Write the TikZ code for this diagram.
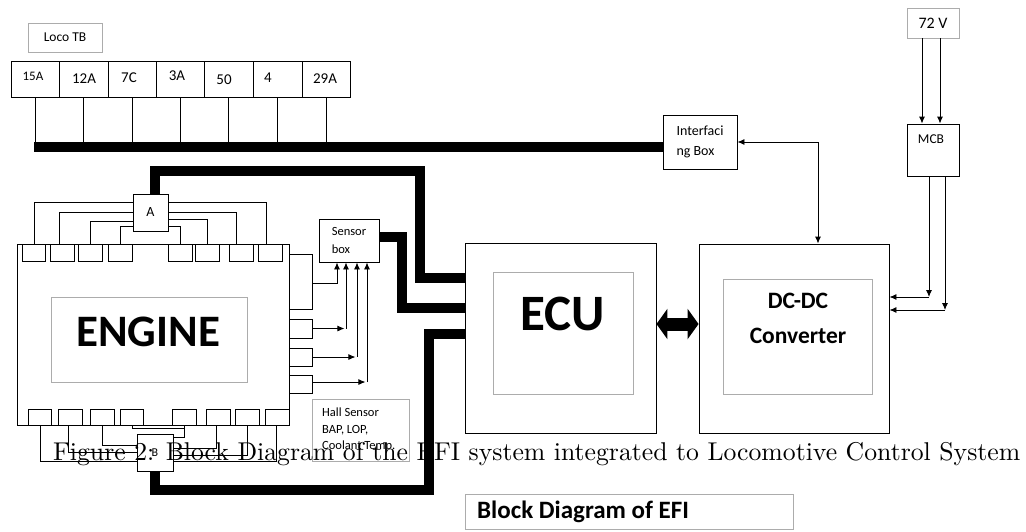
\documentclass[tikz,border=0pt]{standalone}
\usepackage{fontspec}
\newfontfamily\calfnt{Carlito}
\usetikzlibrary{arrows.meta,calc}
\begin{document}
\begin{tikzpicture}[x=1pt,y=-1pt,
  ln/.style={line width=0.9pt},
  box/.style={draw=black,line width=0.9pt,inner sep=0pt,font=\calfnt},
  gbox/.style={draw=gray!65,line width=0.9pt,inner sep=0pt,font=\calfnt},
  sz/.style 2 args={minimum width=#1pt,minimum height=#2pt},
  bus/.style={line width=10pt,line cap=butt,line join=miter},
  arr/.style={line width=0.9pt,-{Latex[length=7pt,width=6pt]}},
  darr/.style={line width=0.9pt,{Latex[length=7pt,width=6pt]}-{Latex[length=7pt,width=6pt]}},
  lbl/.style={font=\calfnt\fontsize{15}{17}\selectfont,inner sep=0pt},
]
\fill[white] (0,0) rectangle (1026,531);
\useasboundingbox (0,0) rectangle (1026,531);

% ---------- Loco TB ----------
\node[gbox,sz={74}{29},font=\calfnt\fontsize{13.5}{15}\selectfont] (loco) at (65,37.5) {Loco TB};
\foreach \n/\cx/\w in {c1/35/48,c2/83.5/49,c3/132/48,c4/180/48,c5/228.5/49,c6/277.5/49,c7/326/48}
  \node[box,sz={\w}{36}] (\n) at (\cx,79) {};
\node[lbl,font=\calfnt\fontsize{13}{15}\selectfont] (lab1) at (33,76) {15A};
\foreach \t/\lx/\ly [count=\i from 2] in {12A/84/79,7C/129/78,3A/177/76,50/224/80,4/268/78,29A/325/79}
  \node[lbl] (lab\i) at (\lx,\ly) {\t};

% ---------- Interfacing box ----------
\node[box,sz={74}{54},align=left,font=\calfnt\fontsize{14}{20}\selectfont] (ifb) at (700,142) {Interfaci\\ng Box};
\coordinate (busL) at (34,147);
\foreach \i in {1,...,7} \draw[ln] (c\i.south) -- (c\i.south |- busL);
\draw[bus] (busL) -- (busL -| ifb.west);

% ---------- 72 V and MCB ----------
\node[gbox,sz={52}{30},font=\calfnt\fontsize{16}{18}\selectfont] (v72) at (933,23) {72 V};
\node[box,sz={52}{52}] (mcb) at (933,150) {};
\node[font=\calfnt\fontsize{13.5}{16}\selectfont,inner sep=0pt] (mcbt) at (931,139) {MCB};
\draw[arr] ([xshift=-11pt]v72.south) -- ([xshift=-11pt]mcb.north);
\draw[arr] ([xshift=7pt]v72.south) -- ([xshift=7pt]mcb.north);

% ---------- ECU ----------
\node[box,sz={191}{190}] (ecu) at (560.5,338) {};
\node[gbox,sz={140}{122}] (ecuin) at (563,333) {};
\node[font=\calfnt\bfseries\fontsize{51}{56}\selectfont,inner sep=0pt] (ecut) at (563,313.5) {ECU};

% ---------- DC-DC ----------
\node[box,sz={190}{189}] (dcdc) at (794,338.5) {};
\node[gbox,sz={149}{115}] (dcin) at (797.5,336.5) {};
\node[font=\calfnt\bfseries\fontsize{23.5}{28}\selectfont,inner sep=0pt] (dct1) at (798,300.5) {DC-DC};
\node[font=\calfnt\bfseries\fontsize{23.5}{28}\selectfont,inner sep=0pt,anchor=base] (dct2) at (798,343) {Converter};

\draw[line width=13pt,{Triangle[length=11pt,width=30pt]}-{Triangle[length=11pt,width=30pt]}]
  ([yshift=14pt]ecu.east) -- ([yshift=14pt]ecu.east -| dcdc.west);

\draw[darr] (ifb.east) -| ([xshift=24pt]dcdc.north);

\coordinate (m1) at (929,297);
\coordinate (m2) at (945,310);
\draw[arr] ([xshift=-4pt]mcb.south) -- (m1);
\draw[arr] (m1) -- (m1 -| dcdc.east);
\draw[arr] ([xshift=12pt]mcb.south) -- (m2);
\draw[arr] (m2) -- (m2 -| dcdc.east);

% ---------- ENGINE ----------
\node[box,sz={272}{181}] (engine) at (153,334.5) {};
\node[gbox,sz={196}{85}] (engin) at (149,339.5) {};
\node[font=\calfnt\bfseries\fontsize{45}{50}\selectfont,inner sep=0pt] (engt) at (148,331.5) {ENGINE};

\foreach \cx [count=\i] in {34,62.5,90.5,120.5,180.5,207.5,241.5,270.5}
  \node[box,sz={23.5}{17}] (t\i) at (\cx,252.5) {};
\foreach \cx [count=\i] in {40,70.5,102.5,132,184.5,218.5,247.5,277.5}
  \node[box,sz={23.5}{16}] (b\i) at (\cx,417) {};

\node[box,sz={35}{37},font=\calfnt\fontsize{14}{16}\selectfont] (A) at (150.5,212.5) {A};
\node[box,sz={36}{37},font=\calfnt\fontsize{12}{14}\selectfont] (B) at (155,452.5) {B};

% top harness to A
\draw[ln] (t1.north) |- ([yshift=10.5pt]A.west);
\draw[ln] ([xshift=-3pt]t2.north) |- (A.west);
\draw[ln] (t3.north) |- ([yshift=-8.5pt]A.west);
\draw[ln] (t4.north) |- ([yshift=-13.5pt]A.west);
\draw[ln] (t5.north) |- ([yshift=-13.5pt]A.east);
\draw[ln] (t6.north) |- ([yshift=-6.5pt]A.east);
\draw[ln] ([xshift=-5pt]t7.north) |- (A.east);
\draw[ln] ([xshift=-4pt]t8.north) |- ([yshift=10.5pt]A.east);

% bottom harness to B
\draw[ln] (b1.south) |- ([yshift=-8.5pt]B.west);
\draw[ln] ([xshift=-2pt]b2.south) |- (B.west);
\draw[ln] (b3.south) |- ([yshift=7.5pt]B.west);
\draw[ln] (b4.south) -- ++(0,3) coordinate (k4) -- (k4 -| b5.south);
\draw[ln] (b5.south) |- ([yshift=15.5pt]B.east);
\draw[ln] ([xshift=-2pt]b6.south) |- ([yshift=4.5pt]B.east);
\draw[ln] (b7.south) |- ([yshift=-2.5pt]B.east);
\draw[ln] ([xshift=-1.5pt]b8.south) |- ([yshift=-8.5pt]B.east);

% ---------- Sensor box ----------
\node[box,sz={60}{43},align=left,font=\calfnt\fontsize{12.5}{18}\selectfont] (sensor) at (349,240.5) {Sensor\\box};
\node[box,sz={23}{55}] (r1) at (300.5,281.5) {};
\node[box,sz={23}{19}] (r2) at (300.5,328.5) {};
\node[box,sz={23}{18}] (r3) at (300.5,357) {};
\node[box,sz={23}{18}] (r4) at (300.5,384) {};

\draw[arr] ([yshift=-1.5pt]r1.east) -| ([xshift=-12pt]sensor.south);
\draw[arr] (r2.east) -- ++(32,0);
\draw[arr] ([xshift=-3pt]sensor.south |- r2.east) -- ([xshift=-3pt]sensor.south);
\draw[arr] (r3.east) -- ++(43,0);
\draw[arr] ([xshift=8pt]sensor.south |- r3.east) -- ([xshift=8pt]sensor.south);
\draw[arr] ([yshift=2pt]r4.east) -- ++(53,0);
\draw[arr] ([xshift=18pt,yshift=2pt]sensor.south |- r4.east) -- ([xshift=18pt]sensor.south);

\node[gbox,sz={97}{62}] (hall) at (360.5,430) {};
\node[anchor=west,align=left,inner sep=0pt,font=\calfnt\fontsize{12.5}{16.5}\selectfont] (hallt) at (322,430) {Hall Sensor\\BAP, LOP,\\Coolant Temp.};

% ---------- thick harnesses to ECU ----------
\coordinate (a1) at (420,171);
\draw[bus] ([xshift=4.5pt]A.north) |- (a1) |- ([yshift=60pt]ecu.west);
\coordinate (s1) at (402,308);
\draw[bus] ([yshift=3.5pt]sensor.east) -| (s1) -- (s1 -| ecu.west);
\coordinate (bb) at (429,490);
\draw[bus] (B.south) |- (bb) |- ([yshift=4pt]ecu.west);

% ---------- captions ----------
\node[gbox,sz={328}{35}] (blk) at (629,511.5) {};
\node[anchor=west,inner sep=0pt,font=\calfnt\bfseries\fontsize{25}{28}\selectfont] (blkt) at (477,511.5) {Block Diagram of EFI};

\node[anchor=base west,inner sep=0pt] (cap) at (53,460) {\resizebox{967pt}{!}{Figure 2: Block Diagram of the EFI system integrated to Locomotive Control System}};
\end{tikzpicture}
\end{document}
